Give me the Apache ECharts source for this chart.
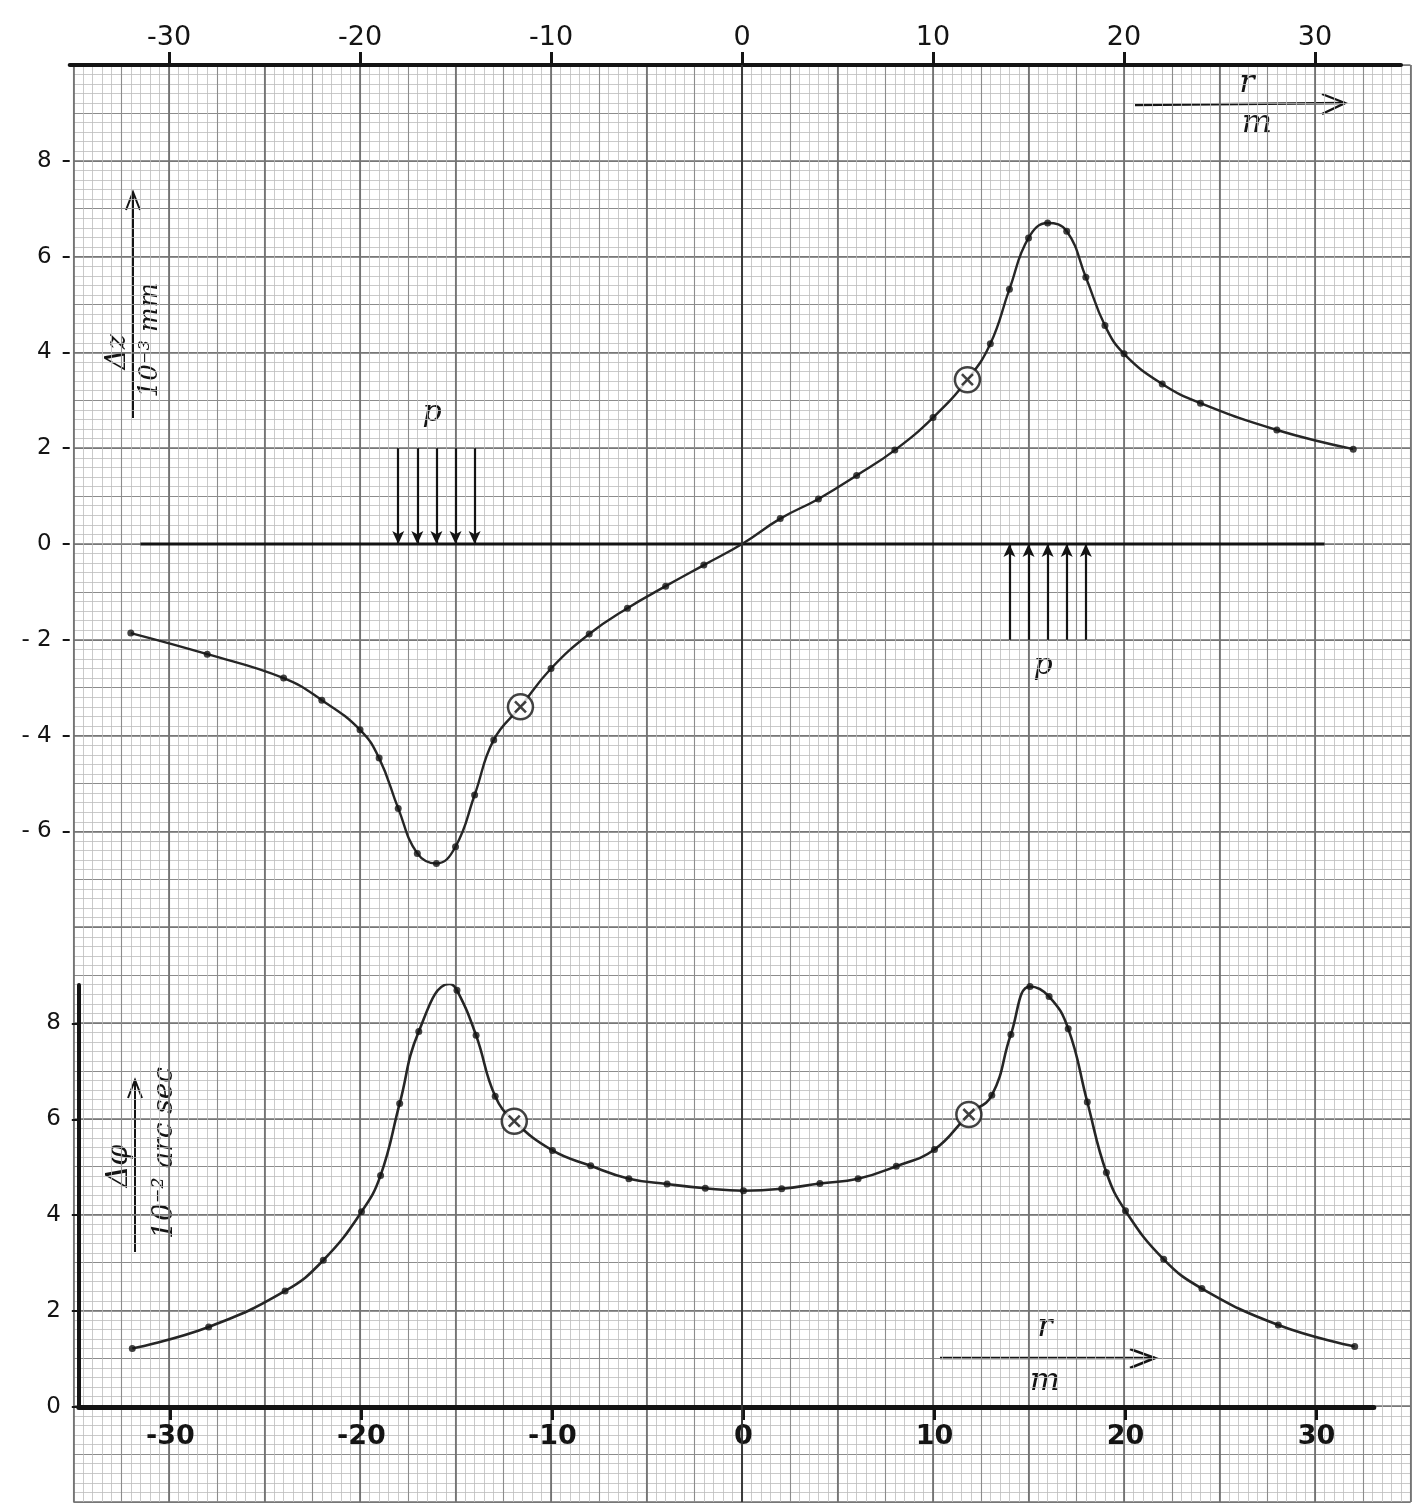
<!DOCTYPE html>
<html>
<head>
<meta charset="utf-8">
<script src="https://cdn.jsdelivr.net/npm/echarts@6/dist/echarts.min.js"></script>
<style>
  html, body { margin: 0; background: #fff; }
  #chart { width: 1421px; height: 1510px; }
</style>
</head>
<body>
<div id="chart"></div>
<script>
// tick labels of r (m), same on top and bottom
const xTicks = [-30, -20, -10, 0, 10, 20, 30]
const topYTicks = [-6, -4, -2, 0, 2, 4, 6, 8]
const bottomYTicks = [0, 2, 4, 6, 8]

// upper plot: Δz in 10^-3 mm, measured dots
const topDotX = [-32, -28, -24, -22, -20, -19, -18, -17, -16, -15, -14, -13, -10, -8, -6, -4, -2,
  2, 4, 6, 8, 10, 13, 14, 15, 16, 17, 18, 19, 20, 22, 24, 28, 32]
const topDotY = [-1.86, -2.30, -2.80, -3.26, -3.88, -4.47, -5.52, -6.46, -6.67, -6.32, -5.24, -4.09, -2.60, -1.88, -1.34, -0.88, -0.44,
  0.53, 0.94, 1.43, 1.96, 2.64, 4.18, 5.32, 6.39, 6.70, 6.53, 5.57, 4.56, 3.97, 3.34, 2.94, 2.38, 1.98]
// circled points (⊗)
const topMarkX = [-11.6, 11.8]
const topMarkY = [-3.4, 3.43]
// extra points the drawn curve passes through
const topCurveX = [0]
const topCurveY = [0]

// lower plot: Δφ in 10^-2 arc sec
const bottomDotX = [-32, -28, -24, -22, -20, -19, -18, -17, -15, -14, -13, -10, -8, -6, -4, -2, 0,
  2, 4, 6, 8, 10, 13, 14, 15, 16, 17, 18, 19, 20, 22, 24, 28, 32]
const bottomDotY = [1.22, 1.67, 2.42, 3.06, 4.07, 4.83, 6.33, 7.83, 8.69, 7.75, 6.48, 5.35, 5.03, 4.76, 4.65, 4.56, 4.51,
  4.55, 4.66, 4.76, 5.02, 5.37, 6.50, 7.77, 8.77, 8.56, 7.89, 6.36, 4.89, 4.09, 3.08, 2.47, 1.71, 1.26]
const bottomMarkX = [-12, 11.8]
const bottomMarkY = [5.96, 6.1]
const bottomCurveX = [-15.4]
const bottomCurveY = [8.82]

// load p: arrows between r = -18..-14 (down) and 14..18 (up)
const loadLeftX = [-18, -17, -16, -15, -14]
const loadRightX = [14, 15, 16, 17, 18]
const loadHeight = 2
// drawn zero line of the upper plot
const zeroLineX = [-31.5, 30.5]

const INK = '#141414'
const FONT = '"DejaVu Sans", sans-serif'

function pairs(xs, ys) {
  return xs.map((x, i) => [x, ys[i]])
}
function curve(...groups) {
  return groups.flat().sort((a, b) => a[0] - b[0])
}

const topDots = pairs(topDotX, topDotY)
const topMarks = pairs(topMarkX, topMarkY)
const bottomDots = pairs(bottomDotX, bottomDotY)
const bottomMarks = pairs(bottomMarkX, bottomMarkY)

const chart = echarts.init(document.getElementById('chart'))

// graph paper: minor 1 mm, medium 5 mm, major 1 cm
const minorLine = { color: '#bdbdbd', width: 0.8 }
const mediumLine = { color: '#8c8c8c', width: 1.1 }
const majorLine = { color: '#707070', width: 1.7 }

function paperAxis(min, max, interval, lineStyle, minor) {
  return {
    type: 'value', gridIndex: 0, min, max, interval,
    axisLine: { show: false, onZero: false }, axisTick: { show: false }, axisLabel: { show: false },
    splitLine: { show: true, lineStyle },
    minorTick: { show: false, splitNumber: 5 },
    minorSplitLine: { show: !!minor, lineStyle: minorLine }
  }
}

const negLabel = v => (v < 0 ? '- ' + (-v) : String(v))

const dotStyle = { color: INK }
const ringSeries = (xi, yi, data) => ({
  type: 'scatter', xAxisIndex: xi, yAxisIndex: yi, data, z: 6,
  symbol: 'circle', symbolSize: 25,
  itemStyle: { color: '#fff', borderColor: INK, borderWidth: 2.5 }
})
const crossSeries = (xi, yi, data) => ({
  type: 'scatter', xAxisIndex: xi, yAxisIndex: yi, data, z: 7,
  symbol: 'path://M0,0L10,10M10,0L0,10', symbolSize: 11,
  itemStyle: { color: 'none', borderColor: INK, borderWidth: 2.6 }
})

const option = {
  backgroundColor: '#fff',
  animation: false,
  grid: [
    { left: 73.5, top: 65, width: 1337, height: 1437 },   // paper
    { left: 69.7, top: 65, width: 1331.3, height: 862.2 }, // upper plot
    { left: 78.8, top: 985, width: 1295, height: 422 }     // lower plot
  ],
  xAxis: [
    paperAxis(-35, 35, 2.5, mediumLine, true),
    paperAxis(-35, 35, 5, majorLine, false),
    {
      type: 'value', gridIndex: 1, position: 'top', min: -35.2, max: 34.5,
      splitLine: { show: false },
      axisLine: { onZero: false, lineStyle: { color: INK, width: 4 } },
      axisTick: { customValues: xTicks, length: 13, lineStyle: { color: INK, width: 3 } },
      axisLabel: { customValues: xTicks, color: INK, fontSize: 27, fontFamily: FONT, margin: 14 }
    },
    {
      type: 'value', gridIndex: 2, position: 'bottom', min: -34.8, max: 33,
      splitLine: { show: false },
      axisLine: { onZero: false, lineStyle: { color: INK, width: 5 } },
      axisTick: { customValues: xTicks, length: 13, lineStyle: { color: INK, width: 3 } },
      axisLabel: { customValues: xTicks, color: INK, fontSize: 27, fontWeight: 'bold', fontFamily: FONT, margin: 16 }
    }
  ],
  yAxis: [
    paperAxis(-20, 10, 1, mediumLine, true),
    paperAxis(-20, 10, 2, majorLine, false),
    {
      type: 'value', gridIndex: 1, min: -8, max: 10,
      splitLine: { show: false },
      axisLine: { show: false, onZero: false },
      axisTick: { show: true, customValues: topYTicks, length: 7, lineStyle: { color: INK, width: 2 } },
      axisLabel: {
        customValues: topYTicks, color: INK, fontSize: 23, fontFamily: FONT, margin: 18,
        formatter: v => negLabel(v)
      }
    },
    {
      type: 'value', gridIndex: 2, min: 0, max: 8.8,
      splitLine: { show: false },
      axisLine: { show: true, onZero: false, lineStyle: { color: INK, width: 4 } },
      axisTick: { show: true, customValues: bottomYTicks, length: 7, lineStyle: { color: INK, width: 2 } },
      axisLabel: { customValues: bottomYTicks, color: INK, fontSize: 23, fontFamily: FONT, margin: 18 }
    }
  ],
  series: [
    // paper + vertical r = 0 line
    {
      type: 'line', xAxisIndex: 0, yAxisIndex: 0, data: [], silent: true,
      markLine: {
        silent: true, symbol: 'none', label: { show: false },
        lineStyle: { color: '#333', width: 1.8, type: 'solid' },
        data: [{ xAxis: 0 }]
      }
    },
    // upper plot zero line and loads
    {
      type: 'line', xAxisIndex: 2, yAxisIndex: 2, z: 3,
      data: zeroLineX.map(x => [x, 0]), showSymbol: false,
      lineStyle: { color: INK, width: 3 },
      markLine: {
        silent: true, symbol: ['none', 'arrow'], symbolSize: [9, 13],
        label: { show: false },
        lineStyle: { color: INK, width: 2.2, type: 'solid' },
        data: [
          ...loadLeftX.map(x => [{ coord: [x, loadHeight] }, { coord: [x, 0] }]),
          ...loadRightX.map(x => [{ coord: [x, -loadHeight] }, { coord: [x, 0] }])
        ]
      }
    },
    {
      type: 'line', xAxisIndex: 2, yAxisIndex: 2, z: 4,
      data: curve(topDots, topMarks, pairs(topCurveX, topCurveY)),
      smooth: 0.45, showSymbol: false,
      lineStyle: { color: '#262626', width: 2.4 }
    },
    {
      type: 'scatter', xAxisIndex: 2, yAxisIndex: 2, z: 5,
      data: topDots, symbolSize: 7, itemStyle: dotStyle
    },
    ringSeries(2, 2, topMarks),
    crossSeries(2, 2, topMarks),
    // lower plot
    {
      type: 'line', xAxisIndex: 3, yAxisIndex: 3, z: 4,
      data: curve(bottomDots, bottomMarks, pairs(bottomCurveX, bottomCurveY)),
      smooth: 0.45, showSymbol: false,
      lineStyle: { color: '#262626', width: 2.6 }
    },
    {
      type: 'scatter', xAxisIndex: 3, yAxisIndex: 3, z: 5,
      data: bottomDots, symbolSize: 7, itemStyle: dotStyle
    },
    ringSeries(3, 3, bottomMarks),
    crossSeries(3, 3, bottomMarks)
  ],
  graphic: [
    // Δz / 10^-3 mm
    { type: 'line', shape: { x1: 133, y1: 418, x2: 133, y2: 192 }, style: { stroke: INK, lineWidth: 2 } },
    { type: 'polyline', shape: { points: [[126, 210], [133, 192], [140, 210]] }, style: { stroke: INK, lineWidth: 2, fill: null } },
    { type: 'text', x: 118, y: 352, rotation: Math.PI / 2,
      style: { text: 'Δz', font: 'italic 28px "DejaVu Serif"', fill: INK, align: 'center', verticalAlign: 'middle' } },
    { type: 'text', x: 150, y: 340, rotation: Math.PI / 2,
      style: { text: '10⁻³ mm', font: 'italic 26px "DejaVu Serif"', fill: INK, align: 'center', verticalAlign: 'middle' } },
    // Δφ / 10^-2 arc sec
    { type: 'line', shape: { x1: 135, y1: 1252, x2: 135, y2: 1080 }, style: { stroke: INK, lineWidth: 2 } },
    { type: 'polyline', shape: { points: [[128, 1098], [135, 1080], [142, 1098]] }, style: { stroke: INK, lineWidth: 2, fill: null } },
    { type: 'text', x: 119, y: 1166, rotation: Math.PI / 2,
      style: { text: 'Δφ', font: 'italic 30px "DejaVu Serif"', fill: INK, align: 'center', verticalAlign: 'middle' } },
    { type: 'text', x: 165, y: 1153, rotation: Math.PI / 2,
      style: { text: '10⁻² arc sec', font: 'italic 28px "DejaVu Serif"', fill: INK, align: 'center', verticalAlign: 'middle' } },
    // r / m arrows
    { type: 'line', shape: { x1: 1135, y1: 105, x2: 1345, y2: 103 }, style: { stroke: INK, lineWidth: 2.4 } },
    { type: 'polyline', shape: { points: [[1322, 94], [1345, 103], [1322, 114]] }, style: { stroke: INK, lineWidth: 2.4, fill: null } },
    { type: 'text', x: 1247, y: 84, style: { text: 'r', font: 'italic 32px "DejaVu Serif"', fill: INK, align: 'center', verticalAlign: 'middle' } },
    { type: 'text', x: 1257, y: 124, style: { text: 'm', font: 'italic 32px "DejaVu Serif"', fill: INK, align: 'center', verticalAlign: 'middle' } },
    { type: 'line', shape: { x1: 940, y1: 1358, x2: 1155, y2: 1358 }, style: { stroke: INK, lineWidth: 2.6 } },
    { type: 'polyline', shape: { points: [[1130, 1349], [1155, 1358], [1130, 1368]] }, style: { stroke: INK, lineWidth: 2.6, fill: null } },
    { type: 'text', x: 1045, y: 1328, style: { text: 'r', font: 'italic 32px "DejaVu Serif"', fill: INK, align: 'center', verticalAlign: 'middle' } },
    { type: 'text', x: 1045, y: 1382, style: { text: 'm', font: 'italic 32px "DejaVu Serif"', fill: INK, align: 'center', verticalAlign: 'middle' } },
    // p labels at the loads
    { type: 'text', x: 432, y: 413, style: { text: 'p', font: 'italic 30px "DejaVu Serif"', fill: INK, align: 'center', verticalAlign: 'middle' } },
    { type: 'text', x: 1043, y: 666, style: { text: 'p', font: 'italic 30px "DejaVu Serif"', fill: INK, align: 'center', verticalAlign: 'middle' } }
  ]
}

chart.setOption(option)
</script>
</body>
</html>
